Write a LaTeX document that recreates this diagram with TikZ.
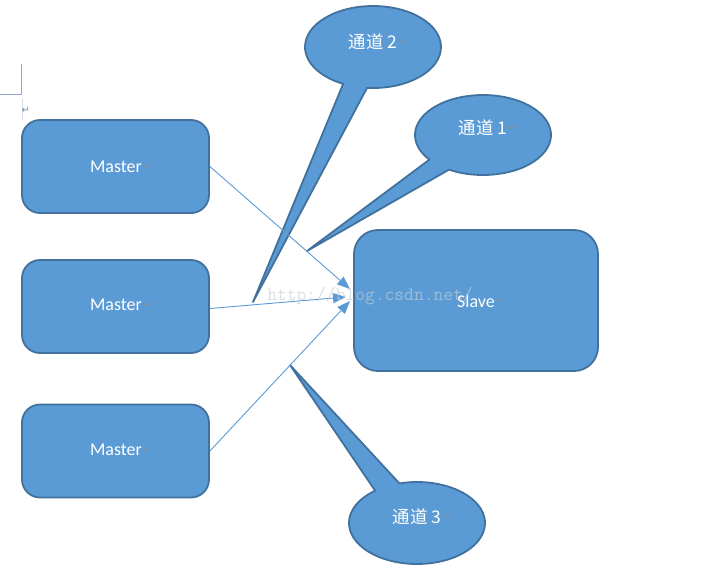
\documentclass[tikz,border=0pt]{standalone}
\usepackage{fontspec}
\setmainfont{Carlito}
\newfontfamily\cjk{Noto Sans CJK SC}
\newfontfamily\symf{DejaVu Sans}
\usetikzlibrary{arrows.meta,calc}
\definecolor{ofill}{HTML}{5B9BD5}
\definecolor{oline}{HTML}{41719C}
\definecolor{pm}{HTML}{7F8FA0}
\definecolor{cmk}{HTML}{8FAACC}
\definecolor{wmc}{HTML}{C4CCD6}
\begin{document}
\begin{tikzpicture}[x=1pt,y=-1pt,
  box/.style={draw=oline,fill=ofill,line width=1.8pt,rounded corners=18pt,inner sep=0pt},
  callout/.style={draw=oline,fill=ofill,line width=1.8pt,line join=round},
  lbl/.style={text=white,font=\fontsize{18}{20}\selectfont,inner sep=0pt},
  clbl/.style={text=white,font=\cjk\fontsize{17.5}{20}\selectfont,inner sep=0pt},
  pmark/.style={text=pm,font=\symf\fontsize{10}{10}\selectfont,inner sep=0.5pt,anchor=west},
  link/.style={draw=ofill,line width=0.9pt,-{Triangle[length=13pt,width=10pt]}},
  cornermark/.style={draw=cmk,line width=0.9pt},
  wm/.style={text=wmc,opacity=0.65,font=\ttfamily\fontsize{19}{20}\selectfont,inner sep=0pt}
  ]
\useasboundingbox (0,0) rectangle (721,568);

% page corner marks
\draw[cornermark] (21,64) -- (21,94) -- (0,94);
\draw[cornermark,draw opacity=0.4] (22,98) -- (22,120);
\node[pmark] (pm0) at (21,110) {↵};

% masters
\node[box,minimum width=187pt,minimum height=93pt] (m1) at (115.5,166.5) {};
\node[box,minimum width=187pt,minimum height=93pt] (m2) at (115.5,306.5) {};
\node[box,minimum width=187pt,minimum height=93pt] (m3) at (115.5,451) {};
\node[lbl] (m1t) at (116,167) {Master};
\node[pmark] (m1p) at (m1t.east) {↵};
\node[lbl] (m2t) at (116,305) {Master};
\node[pmark] (m2p) at (m2t.east) {↵};
\node[lbl] (m3t) at (116,450) {Master};
\node[pmark] (m3p) at (m3t.east) {↵};

% slave
\node[box,rounded corners=24pt,minimum width=244pt,minimum height=141pt] (s) at (476,300.5) {};
\node[lbl] (st) at (476,301) {Slave};
\node[pmark] (sp) at (st.east) {↵};

% callouts
\coordinate (e2) at (373,47);
\coordinate (t2) at (253,302);
\path[callout] ($(e2)+(116:68 and 41)$) -- (t2) -- ($(e2)+(95:68 and 41)$)
  arc[start angle=95,end angle=-244,x radius=68,y radius=41] -- cycle;
\coordinate (e1) at (483,135);
\coordinate (t1) at (307,251);
\path[callout] ($(e1)+(142:68 and 40)$) -- (t1) -- ($(e1)+(120:68 and 40)$)
  arc[start angle=120,end angle=-218,x radius=68,y radius=40] -- cycle;
\coordinate (e3) at (417,523);
\coordinate (t3) at (290,365);
\path[callout] ($(e3)+(-128:68 and 41)$) -- (t3) -- ($(e3)+(-105:68 and 41)$)
  arc[start angle=-105,end angle=232,x radius=68,y radius=41] -- cycle;

\node[clbl] (c2t) at (373,42) {通道 2};
\node[pmark] (c2p) at (c2t.east) {↵};
\node[clbl] (c1t) at (483,128) {通道 1};
\node[pmark] (c1p) at (c1t.east) {↵};
\node[clbl] (c3t) at (417,517) {通道 3};
\node[pmark] (c3p) at (c3t.east) {↵};

% connectors
\coordinate (a1) at (350,289);
\coordinate (a2) at (346,297);
\coordinate (a3) at (350,301);
\draw[link] (m1.east) -- (a1);
\draw[link] ([yshift=-2pt]m2.east) -- (a2);
\draw[link] (m3.east) -- (a3);

% watermark
\node[wm] (w) at (370,296) {http://blog.csdn.net/};
\end{tikzpicture}
\end{document}
